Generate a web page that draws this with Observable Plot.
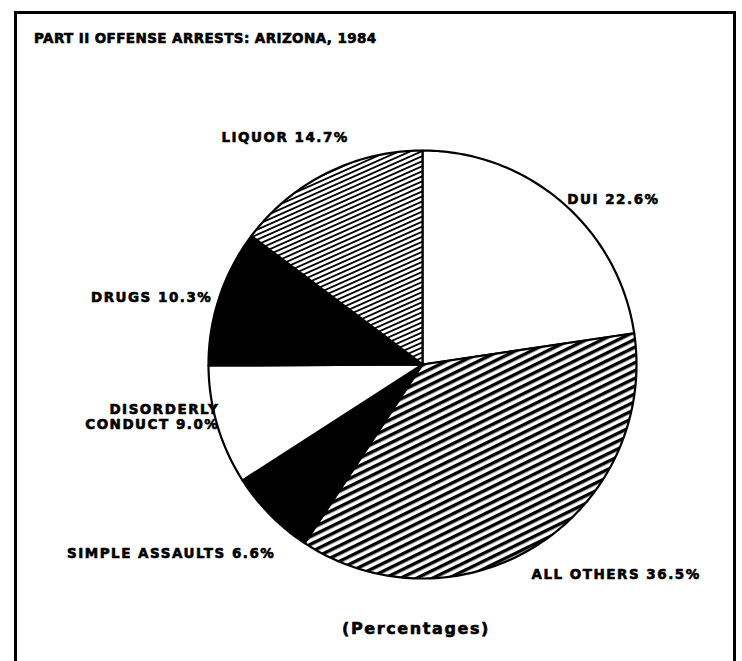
<!DOCTYPE html>
<html>
<head>
<meta charset="utf-8">
<script src="https://cdn.jsdelivr.net/npm/d3@7"></script>
<script src="https://cdn.jsdelivr.net/npm/@observablehq/plot@0.6"></script>
<style>
  body { margin: 0; background: #fff; }
  #page { position: relative; width: 742px; height: 661px; overflow: hidden; background: #fff;
          font-family: "DejaVu Sans", sans-serif; font-weight: bold; color: #000; }
  #frame { position: absolute; left: 14px; top: 11px; width: 716px; height: 720px; border: 3px solid #000; }
  #title { position: absolute; left: 34px; top: 30px; font-size: 13.5px; letter-spacing: 0.4px; white-space: nowrap;
           -webkit-text-stroke: 0.6px #000; }
  #chart { position: absolute; left: 0; top: 0; }
  #caption { position: absolute; left: 316px; width: 200px; top: 619px; text-align: center; font-size: 16px;
             letter-spacing: 1.6px; -webkit-text-stroke: 0.6px #000; }
</style>
</head>
<body>
<div id="page">
  <div id="frame"></div>
  <div id="title">PART II OFFENSE ARRESTS: ARIZONA, 1984</div>
  <div id="chart"></div>
  <div id="caption">(Percentages)</div>
</div>
<script>
// Offense categories, clockwise from twelve o'clock
const categories = ["DUI", "ALL OTHERS", "SIMPLE ASSAULTS", "DISORDERLY CONDUCT", "DRUGS", "LIQUOR"];
// Share of Part II arrests (percent)
const shares = [22.6, 36.5, 6.6, 9.0, 10.3, 14.7];
// Label wording as printed beside each slice
const labelNames = ["DUI", "ALL OTHERS", "SIMPLE ASSAULTS", "DISORDERLY\nCONDUCT", "DRUGS", "LIQUOR"];

// Slice fills: white, black, or one of two hatch patterns
const sliceFill = {
  "DUI": "#fff",
  "ALL OTHERS": "url(#hatch-wide)",
  "SIMPLE ASSAULTS": "#000",
  "DISORDERLY CONDUCT": "#fff",
  "DRUGS": "#000",
  "LIQUOR": "url(#hatch-fine)"
};
// Label placement: anchor side and pixel nudge from the slice's rim midpoint
const labelPlace = {
  "DUI": {anchor: "start", dx: 5, dy: -3},
  "ALL OTHERS": {anchor: "start", dx: -6, dy: 29},
  "SIMPLE ASSAULTS": {anchor: "end", dx: 5, dy: 38},
  "DISORDERLY CONDUCT": {anchor: "end", dx: 2, dy: -9},
  "DRUGS": {anchor: "end", dx: -7, dy: 0},
  "LIQUOR": {anchor: "end", dx: 22, dy: -36}
};

const slices = categories.map((name, i) => ({name, share: shares[i], label: `${labelNames[i]} ${shares[i].toFixed(1)}%`}));
const arcs = d3.pie().sort(null).value(d => d.share)(slices);

// Each slice as a closed polygon in unit-circle coordinates (y up)
const polygons = arcs.map(a => {
  const steps = Math.max(2, Math.ceil((a.endAngle - a.startAngle) / (Math.PI / 180)));
  const pts = [{x: 0, y: 0}];
  for (let k = 0; k <= steps; k++) {
    const t = a.startAngle + (a.endAngle - a.startAngle) * k / steps;
    pts.push({x: Math.sin(t), y: Math.cos(t)});
  }
  pts.push({x: 0, y: 0});
  return {name: a.data.name, pts};
});

const labels = arcs.map(a => {
  const mid = (a.startAngle + a.endAngle) / 2;
  return {name: a.data.name, label: a.data.label, x: Math.sin(mid), y: Math.cos(mid)};
});

const cx = 422, cy = 364, r = 214;

const chart = Plot.plot({
  width: 742,
  height: 661,
  margin: 0,
  x: {domain: [-1, 1], range: [cx - r, cx + r], axis: null},
  y: {domain: [-1, 1], range: [cy + r, cy - r], axis: null},
  style: {background: "transparent", fontFamily: "'DejaVu Sans', sans-serif", letterSpacing: "1.5px"},
  marks: [
    ...polygons.map(p => Plot.line(p.pts, {
      x: "x", y: "y", fill: sliceFill[p.name], stroke: "#000", strokeWidth: 2.2, strokeLinejoin: "round"
    })),
    ...labels.map(d => Plot.text([d], {
      x: "x", y: "y", text: "label",
      textAnchor: labelPlace[d.name].anchor,
      dx: labelPlace[d.name].dx, dy: labelPlace[d.name].dy,
      lineAnchor: "middle", lineHeight: 1.1,
      fontSize: 13.5, fontWeight: "bold", fill: "#000", stroke: "#000", strokeWidth: 0.6
    }))
  ]
});

// Hatch patterns used by the two striped slices
d3.select(chart).insert("defs", ":first-child").html(`
  <pattern id="hatch-wide" patternUnits="userSpaceOnUse" width="7" height="7" patternTransform="rotate(-26)">
    <rect width="7" height="7" fill="#fff"/><rect width="7" height="3.4" fill="#000"/>
  </pattern>
  <pattern id="hatch-fine" patternUnits="userSpaceOnUse" width="4.6" height="4.6" patternTransform="rotate(-24)">
    <rect width="4.6" height="4.6" fill="#fff"/><rect width="4.6" height="1.8" fill="#000"/>
  </pattern>`);

document.getElementById("chart").appendChild(chart);
</script>
</body>
</html>
